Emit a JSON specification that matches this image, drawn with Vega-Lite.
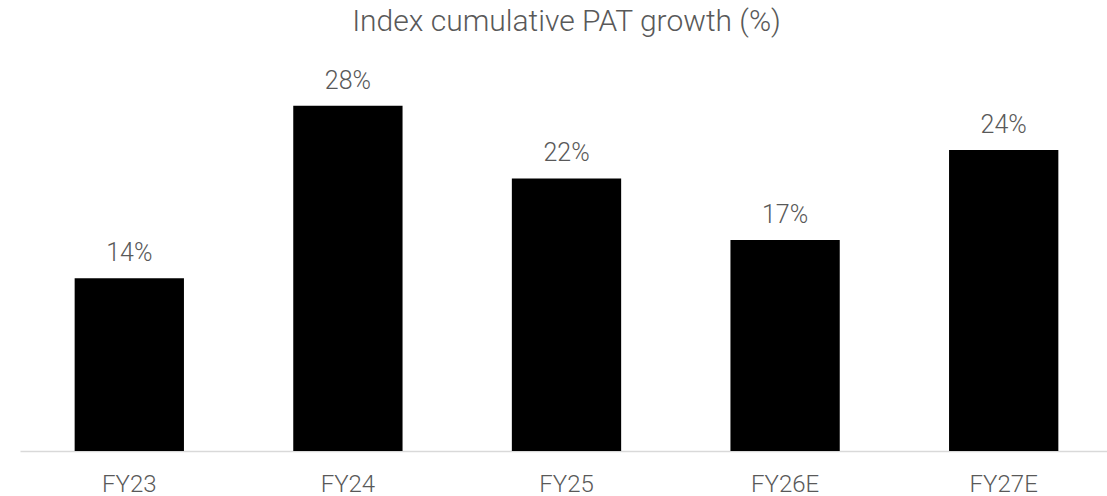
{
  "$schema": "https://vega.github.io/schema/vega-lite/v6.json",
  "autosize": "none",
  "width": 1093,
  "height": 370,
  "padding": {"left": 20, "top": 81, "right": 0, "bottom": 45},
  "background": "white",
  "config": {"view": {"stroke": null}, "font": "Roboto"},
  "title": {
    "text": "Index cumulative PAT growth (%)",
    "anchor": "middle",
    "font": "Roboto",
    "fontSize": 30,
    "fontWeight": 300,
    "color": "#595959",
    "baseline": "alphabetic",
    "offset": 8
  },
  "data": {
    "values": [
      {"year": "FY23", "growth": 0.14},
      {"year": "FY24", "growth": 0.28},
      {"year": "FY25", "growth": 0.221},
      {"year": "FY26E", "growth": 0.171},
      {"year": "FY27E", "growth": 0.244}
    ]
  },
  "encoding": {
    "x": {
      "field": "year",
      "type": "nominal",
      "sort": null,
      "scale": {"paddingInner": 0.5, "paddingOuter": 0.25},
      "axis": {
        "title": null,
        "labelAngle": 0,
        "ticks": false,
        "labelPadding": 21,
        "labelFont": "Roboto",
        "labelFontSize": 24,
        "labelFontWeight": 300,
        "labelColor": "#595959",
        "domainColor": "#d9d9d9",
        "domainWidth": 1.5,
        "grid": false
      }
    },
    "y": {
      "field": "growth",
      "type": "quantitative",
      "scale": {"domain": [0, 0.3]},
      "axis": null
    }
  },
  "layer": [
    {"mark": {"type": "bar", "color": "black"}},
    {
      "mark": {
        "type": "text",
        "baseline": "alphabetic",
        "dy": -17,
        "font": "Roboto",
        "fontSize": 25,
        "fontWeight": 300,
        "color": "#595959"
      },
      "encoding": {"text": {"field": "growth", "type": "quantitative", "format": ".0%"}}
    }
  ]
}
